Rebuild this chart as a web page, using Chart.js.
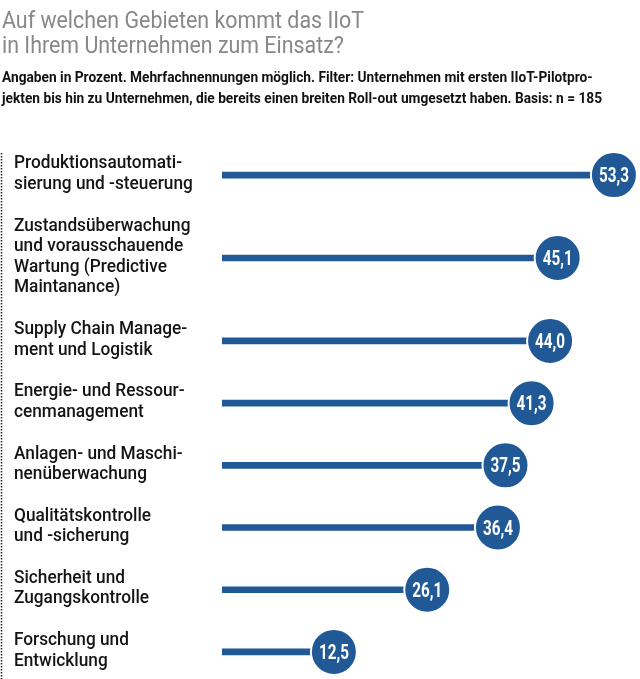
<!DOCTYPE html>
<html>
<head>
<meta charset="utf-8">
<script src="https://cdn.jsdelivr.net/npm/chart.js@4.4.1/dist/chart.umd.min.js"></script>
<style>
  html, body { margin: 0; padding: 0; background: #fff; overflow: hidden; }
  body { width: 640px; height: 679px; position: relative; }
  #wrap { position: absolute; left: 0; top: 0; width: 640px; height: 684px; }
</style>
</head>
<body>
<div id="wrap"><canvas id="chart"></canvas></div>
<script>
const titleLines = [
  "Auf welchen Gebieten kommt das IIoT",
  "in Ihrem Unternehmen zum Einsatz?"
];
const subtitleLines = [
  "Angaben in Prozent. Mehrfachnennungen möglich. Filter: Unternehmen mit ersten IIoT-Pilotpro-",
  "jekten bis hin zu Unternehmen, die bereits einen breiten Roll-out umgesetzt haben. Basis: n = 185"
];
// category labels, broken into lines as in the print layout
const categories = [
  ["Produktionsautomati-", "sierung und -steuerung"],
  ["Zustandsüberwachung", "und vorausschauende", "Wartung (Predictive", "Maintanance)"],
  ["Supply Chain Manage-", "ment und Logistik"],
  ["Energie- und Ressour-", "cenmanagement"],
  ["Anlagen- und Maschi-", "nenüberwachung"],
  ["Qualitätskontrolle", "und -sicherung"],
  ["Sicherheit und", "Zugangskontrolle"],
  ["Forschung und", "Entwicklung"]
];
const values = [53.3, 45.1, 44.0, 41.3, 37.5, 36.4, 26.1, 12.5];
const valueLabels = ["53,3", "45,1", "44,0", "41,3", "37,5", "36,4", "26,1", "12,5"];

const BLUE = "#215896";
const X_MIN = -3.8, X_MAX = 57.1;

// one unit per text line plus one unit of spacing per row
const rowPos = [];
let acc = 0;
categories.forEach(lines => {
  const h = Math.max(lines.length, 2) + 1;
  rowPos.push(acc + h / 2);
  acc += h;
});
const totalUnits = acc;

const points = values.map((v, i) => ({ x: v, y: rowPos[i] }));

// draw text squeezed horizontally so the sans fonts look condensed
function narrowText(ctx, text, x, y, sx) {
  ctx.save();
  ctx.translate(x, y);
  ctx.scale(sx, 1);
  ctx.fillText(text, 0, 0);
  ctx.restore();
}
function fitScale(ctx, text, width) {
  return width / ctx.measureText(text).width;
}

const labelPlugin = {
  id: "labels",
  afterDatasetsDraw(chart) {
    const ctx = chart.ctx;
    const meta = chart.getDatasetMeta(1);
    ctx.save();
    ctx.textBaseline = "alphabetic";
    ctx.textAlign = "left";

    // title
    ctx.fillStyle = "#888";
    ctx.font = "400 23px Roboto, sans-serif";
    let sx = fitScale(ctx, titleLines[0], 362);
    titleLines.forEach((t, k) => narrowText(ctx, t, 2, 28 + k * 25, sx));

    // subtitle
    ctx.fillStyle = "#111";
    ctx.font = "bold 15px Roboto, sans-serif";
    sx = fitScale(ctx, subtitleLines[1], 600);
    subtitleLines.forEach((t, k) => narrowText(ctx, t, 2, 82 + k * 21, sx));

    // dotted rule on the left
    ctx.strokeStyle = "#222";
    ctx.lineWidth = 1.5;
    ctx.setLineDash([1.5, 1.5]);
    ctx.beginPath();
    ctx.moveTo(1.5, 153);
    ctx.lineTo(1.5, chart.height);
    ctx.stroke();
    ctx.setLineDash([]);

    // category labels
    ctx.fillStyle = "#141414";
    ctx.font = "500 18px Roboto, sans-serif";
    const lsx = fitScale(ctx, "Produktionsautomati-", 168);
    meta.data.forEach((pt, i) => {
      const lines = categories[i];
      const mid = (lines.length - 1) / 2;
      lines.forEach((t, k) => narrowText(ctx, t, 14, pt.y + 3.5 + (k - mid) * 20.5, lsx));
    });

    // values inside the circles
    ctx.fillStyle = "#fff";
    ctx.font = "bold 20px Roboto, sans-serif";
    const vsx = fitScale(ctx, "53,3", 30);
    meta.data.forEach((pt, i) => {
      const w = ctx.measureText(valueLabels[i]).width * vsx;
      narrowText(ctx, valueLabels[i], pt.x - w / 2, pt.y + 7, vsx);
    });
    ctx.restore();
  }
};

new Chart(document.getElementById("chart"), {
  type: "bar",
  data: {
    datasets: [
      {
        type: "bar",
        data: points,
        base: X_MIN,
        backgroundColor: BLUE,
        barThickness: 6,
        order: 2
      },
      {
        type: "scatter",
        data: points,
        pointRadius: 23,
        pointHoverRadius: 23,
        pointBackgroundColor: BLUE,
        pointBorderColor: "#fff",
        pointBorderWidth: 2,
        clip: false,
        order: 1
      }
    ]
  },
  options: {
    indexAxis: "y",
    responsive: true,
    maintainAspectRatio: false,
    animation: false,
    layout: { autoPadding: false, padding: { left: 222, right: 0, top: 144, bottom: 1 } },
    plugins: { legend: { display: false }, tooltip: { enabled: false } },
    scales: {
      x: { type: "linear", min: X_MIN, max: X_MAX, offset: false, display: false },
      y: { type: "linear", reverse: true, min: 0, max: totalUnits, offset: false, display: false }
    }
  },
  plugins: [labelPlugin]
});
</script>
</body>
</html>
